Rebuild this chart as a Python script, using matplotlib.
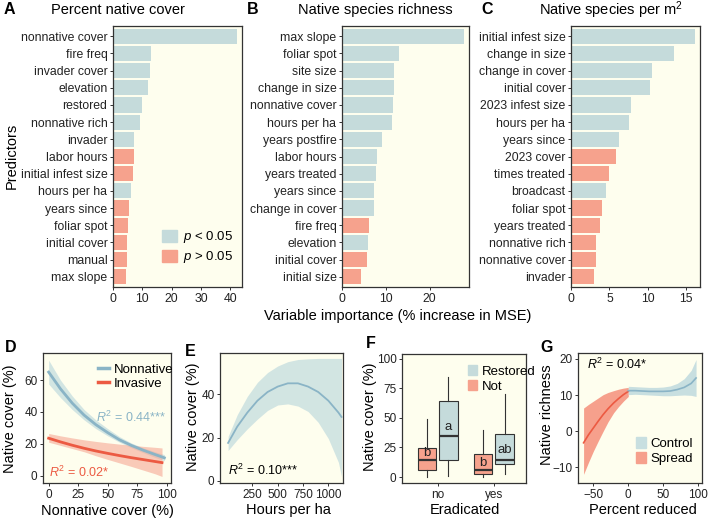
# Recreating the multi-panel restoration figure (A-G)

import numpy as np
import matplotlib
matplotlib.use('Agg')
import matplotlib.pyplot as plt
from matplotlib.patches import Patch
from matplotlib.lines import Line2D

plt.rcParams['font.family'] = ['Liberation Sans', 'DejaVu Sans']
plt.rcParams['mathtext.fontset'] = 'custom'
plt.rcParams['mathtext.rm'] = 'Liberation Sans'
plt.rcParams['mathtext.it'] = 'Liberation Sans:italic'

# ---- data: random forest variable importance ----
a_labels = ['nonnative cover', 'fire freq', 'invader cover', 'elevation', 'restored',
            'nonnative rich', 'invader', 'labor hours', 'initial infest size', 'hours per ha',
            'years since', 'foliar spot', 'initial cover', 'manual', 'max slope']
a_values = [42.3, 13.0, 12.7, 11.8, 9.8, 9.2, 7.3, 7.2, 6.7, 6.3, 5.5, 5.0, 4.7, 4.7, 4.6]
a_sig = [1, 1, 1, 1, 1, 1, 1, 0, 0, 1, 0, 0, 0, 0, 0]

b_labels = ['max slope', 'foliar spot', 'site size', 'change in size', 'nonnative cover',
            'hours per ha', 'years postfire', 'labor hours', 'years treated', 'years since',
            'change in cover', 'fire freq', 'elevation', 'initial cover', 'initial size']
b_values = [27.9, 13.0, 11.8, 11.8, 11.7, 11.5, 9.2, 8.1, 7.7, 7.3, 7.2, 6.1, 6.0, 5.7, 4.4]
b_sig = [1, 1, 1, 1, 1, 1, 1, 1, 1, 1, 1, 0, 1, 0, 0]

c_labels = ['initial infest size', 'change in size', 'change in cover', 'initial cover',
            '2023 infest size', 'hours per ha', 'years since', '2023 cover', 'times treated',
            'broadcast', 'foliar spot', 'years treated', 'nonnative rich', 'nonnative cover',
            'invader']
c_values = [16.1, 13.4, 10.6, 10.3, 7.8, 7.5, 6.2, 5.8, 4.9, 4.5, 4.1, 3.8, 3.3, 3.2, 3.0]
c_sig = [1, 1, 1, 1, 1, 1, 1, 0, 0, 1, 0, 0, 0, 0, 0]

# ---- data: D, fitted native cover vs nonnative cover ----
d_nn_x = [0, 10, 20, 30, 40, 50, 60, 70, 80, 90, 98]
d_nn_fit = [65, 54.5, 45.5, 38, 32, 27, 22.5, 19, 16, 13.3, 11.2]
d_nn_lo = [57.5, 49, 41.5, 35, 29.5, 25, 21, 17.5, 14.5, 11.5, 9.3]
d_nn_hi = [72.5, 60, 50, 41.5, 35, 29.5, 24.5, 20.5, 17.5, 15, 13.2]
d_inv_x = [0, 10, 20, 30, 40, 50, 60, 70, 80, 90, 96]
d_inv_fit = [23.5, 21.2, 19.1, 17.2, 15.5, 14.0, 12.6, 11.3, 10.1, 8.9, 8.2]
d_inv_lo = [21, 19, 17, 15, 12.5, 10.2, 8, 5.8, 3.5, 1.2, -0.5]
d_inv_hi = [26.5, 25, 23.7, 22.5, 21.5, 20.6, 19.8, 19.1, 18.4, 17.8, 17.4]

# ---- data: E, native cover vs hours per ha ----
e_x = [10, 100, 200, 300, 400, 500, 600, 700, 800, 900, 1000, 1100, 1130]
e_fit = [17.5, 25, 31.5, 37, 41, 43.5, 45, 45, 43.5, 41, 37, 31.5, 29.5]
e_lo = [14, 19, 24, 28.5, 32.5, 35, 35.5, 34.5, 32, 27, 19.5, 8.5, 2]
e_hi = [20.5, 30.5, 39, 45.5, 50, 53, 55, 56, 56.3, 56.5, 56.5, 56.5, 56.5]

# ---- data: F, boxplots of native cover ----
f_groups = ['no', 'yes']
f_not = [dict(whislo=0, q1=6.2, med=14.7, q3=24.6, whishi=49.4),
         dict(whislo=0, q1=2.3, med=6.2, q3=19.5, whishi=40)]
f_restored = [dict(whislo=0.8, q1=14.4, med=34.5, q3=64.7, whishi=84.7),
              dict(whislo=2.3, q1=11.3, med=14.7, q3=36.7, whishi=70)]
f_letters_not = [('b', 20), ('b', 12)]
f_letters_res = [('a', 42), ('ab', 23)]

# ---- data: G, native richness vs percent reduced ----
g_sp_x = [-64, -57, -50, -43, -36, -29, -21, -14, -7, 0]
g_sp_fit = [-3.2, -1.0, 0.9, 2.8, 4.6, 6.2, 7.8, 9.0, 10.1, 11.0]
g_sp_lo = [-11.9, -8.6, -5.5, -2.7, 0, 2.6, 5.1, 6.8, 8.3, 9.6]
g_sp_hi = [6.4, 7.4, 8.3, 9.2, 10.1, 10.7, 11.2, 11.6, 11.9, 12.1]
g_ct_x = [0, 10, 20, 30, 40, 50, 60, 70, 80, 90, 97]
g_ct_fit = [11.2, 11.2, 11.1, 11.0, 11.0, 11.0, 11.1, 11.5, 12.1, 13.2, 14.7]
g_ct_lo = [10.1, 10.2, 10.1, 10.0, 9.9, 9.8, 9.8, 9.9, 10.0, 9.9, 9.6]
g_ct_hi = [12.4, 12.3, 12.2, 12.1, 12.1, 12.2, 12.5, 13.2, 14.5, 16.8, 19.8]

# ---- colours ----
BG = '#fefeee'
BLUE = '#c5dbdb'
SALMON = '#f6a28d'
LINE_BLUE = '#8ab4c6'
LINE_RED = '#ec5a42'
BAND_BLUE = '#c8dfe0'
BAND_RED = '#f6a08c'
DARK = '#333333'

W, H = 709, 522
fig = plt.figure(figsize=(W / 100, H / 100), dpi=100)


def px_axes(x0, y0, x1, y1):
    """Add axes given pixel box (left, top, right, bottom)."""
    return fig.add_axes([x0 / W, 1 - y1 / H, (x1 - x0) / W, (y1 - y0) / H])


def px_text(x, y, s, **kw):
    fig.text(x / W, 1 - y / H, s, **kw)


def style(ax, size=8.8):
    ax.set_facecolor(BG)
    for sp in ax.spines.values():
        sp.set_color(DARK)
        sp.set_linewidth(0.9)
    ax.tick_params(colors=DARK, labelcolor='#222222', length=2.5, width=0.7,
                   labelsize=size, pad=1.5)


def plot_importance(ax, labels, values, sig, xmax, xticks):
    """Horizontal bar chart of variable importance."""
    y = np.arange(len(labels))[::-1]
    colors = [BLUE if s else SALMON for s in sig]
    ax.barh(y, values, height=0.88, color=colors)
    ax.set_yticks(y)
    ax.set_yticklabels(labels)
    ax.set_ylim(-0.6, len(labels) - 0.4)
    ax.set_xlim(0, xmax)
    ax.set_xticks(xticks)
    style(ax)


# Top row
ax_a = px_axes(113, 26, 242, 287)
plot_importance(ax_a, a_labels, a_values, a_sig, 44, [0, 10, 20, 30, 40])
ax_a.legend(handles=[Patch(color=BLUE, label='$p$ < 0.05'),
                     Patch(color=SALMON, label='$p$ > 0.05')],
            loc='lower left', bbox_to_anchor=((155 - 113) / 129, (287 - 272) / 261),
            frameon=False, borderpad=0, fontsize=9.5, handlelength=1.15,
            handleheight=1.1, handletextpad=0.5, labelspacing=0.3)

ax_b = px_axes(342, 26, 469, 287)
plot_importance(ax_b, b_labels, b_values, b_sig, 29, [0, 10, 20])

ax_c = px_axes(571, 26, 700, 287)
plot_importance(ax_c, c_labels, c_values, c_sig, 16.8, [0, 5, 10, 15])

px_text(118, 10, 'Percent native cover', ha='center', va='center', fontsize=10.5)
px_text(375, 10, 'Native species richness', ha='center', va='center', fontsize=10.5)
px_text(611, 10, 'Native species per m$^2$', ha='center', va='center', fontsize=10.5)
px_text(12, 156, 'Predictors', ha='center', va='center', rotation=90, fontsize=10.5)
px_text(398, 316, 'Variable importance (% increase in MSE)', ha='center', va='center',
        fontsize=10.5)

# D: native cover vs nonnative cover
ax_d = px_axes(43, 353, 171, 483)
style(ax_d, 8.5)
ax_d.fill_between(d_nn_x, d_nn_lo, d_nn_hi, color=BAND_BLUE, alpha=0.8, lw=0)
ax_d.fill_between(d_inv_x, d_inv_lo, d_inv_hi, color=BAND_RED, alpha=0.55, lw=0)
ax_d.plot(d_nn_x, d_nn_fit, color=LINE_BLUE, lw=2)
ax_d.plot(d_inv_x, d_inv_fit, color=LINE_RED, lw=2)
ax_d.set_xlim(-4.8, 103.6)
ax_d.set_ylim(-4.6, 77)
ax_d.set_xticks([0, 25, 50, 75, 100])
ax_d.set_yticks([0, 20, 40, 60])
ax_d.text(40, 36.3, '$R^2$ = 0.44***', color=LINE_BLUE, fontsize=9, va='center')
ax_d.text(0.3, 2.3, '$R^2$ = 0.02*', color=LINE_RED, fontsize=9, va='center')
ax_d.legend(handles=[Line2D([], [], color=LINE_BLUE, lw=2.5, label='Nonnative'),
                     Line2D([], [], color=LINE_RED, lw=2.5, label='Invasive')],
            loc='upper left', bbox_to_anchor=((91 - 43) / 128, 0.97), frameon=False,
            borderpad=0, fontsize=9.5, handlelength=0.9, handletextpad=0.35,
            labelspacing=0.15)

# E: native cover vs hours per ha
ax_e = px_axes(220, 353, 343, 483)
style(ax_e, 8.5)
ax_e.fill_between(e_x, e_lo, e_hi, color=BAND_BLUE, alpha=0.8, lw=0)
ax_e.plot(e_x, e_fit, color=LINE_BLUE, lw=1.3)
ax_e.set_xlim(-70, 1145)
ax_e.set_ylim(-1, 59)
ax_e.set_xticks([250, 500, 750, 1000])
ax_e.set_yticks([0, 20, 40])
ax_e.text(5, 5, '$R^2$ = 0.10***', color='black', fontsize=9, va='center')

# F: boxplots by eradication
ax_f = px_axes(402, 354, 526, 483)
style(ax_f, 8.5)
pos = np.arange(1, len(f_groups) + 1)
box_kw = dict(widths=0.33, patch_artist=True, showfliers=False, showcaps=False,
              medianprops=dict(color=DARK, lw=1.6),
              whiskerprops=dict(color=DARK, lw=0.8))
ax_f.bxp([dict(s, fliers=[]) for s in f_not], positions=pos - 0.19,
         boxprops=dict(facecolor=SALMON, edgecolor=DARK, lw=0.8), **box_kw)
ax_f.bxp([dict(s, fliers=[]) for s in f_restored], positions=pos + 0.19,
         boxprops=dict(facecolor=BLUE, edgecolor=DARK, lw=0.8), **box_kw)
for p, (lt, yv) in zip(pos - 0.19, f_letters_not):
    ax_f.text(p, yv, lt, ha='center', va='center', fontsize=9.5, color='#222222')
for p, (lt, yv) in zip(pos + 0.19, f_letters_res):
    ax_f.text(p, yv, lt, ha='center', va='center', fontsize=9.5, color='#222222')
ax_f.set_xlim(0.37, 2.57)
ax_f.set_ylim(-5, 104)
ax_f.set_xticks(pos)
ax_f.set_xticklabels(f_groups)
ax_f.set_yticks([0, 25, 50, 75, 100])
ax_f.legend(handles=[Patch(color=BLUE, label='Restored'), Patch(color=SALMON, label='Not')],
            loc='upper left', bbox_to_anchor=((461 - 402) / 124, 0.965), frameon=False,
            borderpad=0, fontsize=9.5, handlelength=0.7, handleheight=0.8,
            handletextpad=0.35, labelspacing=0.2)

# G: native richness vs percent reduced
ax_g = px_axes(578, 353, 702, 483)
style(ax_g, 8.5)
ax_g.fill_between(g_sp_x, g_sp_lo, g_sp_hi, color=BAND_RED, alpha=1.0, lw=0)
ax_g.fill_between(g_ct_x, g_ct_lo, g_ct_hi, color=BAND_BLUE, alpha=1.0, lw=0)
ax_g.plot(g_sp_x, g_sp_fit, color=LINE_RED, lw=1.2)
ax_g.plot(g_ct_x, g_ct_fit, color=LINE_BLUE, lw=1.2)
ax_g.set_xlim(-72, 105.5)
ax_g.set_ylim(-14.3, 21.6)
ax_g.set_xticks([-50, 0, 50, 100])
ax_g.set_yticks([-10, 0, 10, 20])
ax_g.text(-59, 18.4, '$R^2$ = 0.04*', color='black', fontsize=9, va='center')
ax_g.legend(handles=[Patch(color=BAND_BLUE, label='Control'),
                     Patch(color=BAND_RED, label='Spread')],
            loc='upper left', bbox_to_anchor=((629 - 578) / 124, 1 - (430 - 353) / 130),
            frameon=False, borderpad=0, fontsize=9.5, handlelength=0.8, handleheight=0.9,
            handletextpad=0.35, labelspacing=0.2)

# Bottom row axis labels
px_text(10, 419, 'Native cover (%)', ha='center', va='center', rotation=90, fontsize=10.5)
px_text(193, 417, 'Native cover (%)', ha='center', va='center', rotation=90, fontsize=10.5)
px_text(370, 417, 'Native cover (%)', ha='center', va='center', rotation=90, fontsize=10.5)
px_text(547, 415, 'Native richness', ha='center', va='center', rotation=90, fontsize=10.5)
px_text(107, 511, 'Nonnative cover (%)', ha='center', va='center', fontsize=10.5)
px_text(288, 510, 'Hours per ha', ha='center', va='center', fontsize=10.5)
px_text(465, 510, 'Eradicated', ha='center', va='center', fontsize=10.5)
px_text(643, 510, 'Percent reduced', ha='center', va='center', fontsize=10.5)

# Panel letters
for letter, x, y in [('A', 9, 10), ('B', 253, 10), ('C', 487, 10), ('D', 11, 347),
                     ('E', 190, 351), ('F', 371, 343), ('G', 547, 348)]:
    px_text(x, y, letter, ha='center', va='center', fontsize=11.5, fontweight='bold')

fig.savefig('out.png', dpi=100, facecolor='white')
